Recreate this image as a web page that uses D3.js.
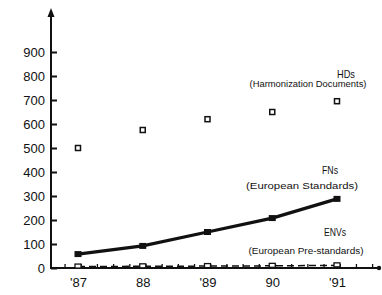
<!DOCTYPE html>
<html>
<head>
<meta charset="utf-8">
<script src="https://cdn.jsdelivr.net/npm/d3@7"></script>
<style>
  body { margin: 0; background: #fff; }
  text { font-family: "Liberation Sans", Arial, sans-serif; fill: #111; }
</style>
</head>
<body>
<svg></svg>
<script>
// values
const years = [1987, 1988, 1989, 1990, 1991];
const yearLabels = ["'87", "88", "'89", "90", "'91"];
const hds = [500, 575, 620, 650, 695];
const fns = [58, 92, 150, 208, 288];
const envs = [6, 7, 8, 9, 11];
const yTicks = [0, 100, 200, 300, 400, 500, 600, 700, 800, 900];

const W = 382, H = 295;
const svg = d3.select("svg").attr("width", W).attr("height", H);

const x = d3.scaleLinear().domain([1987, 1991]).range([78, 337]);
const y = d3.scaleLinear().domain([0, 900]).range([268, 52]);

// y axis
const yAxis = svg.append("g")
    .attr("transform", "translate(51,0)")
    .call(d3.axisLeft(y).tickValues(yTicks).tickSizeInner(-6).tickSizeOuter(0).tickPadding(6));
yAxis.select(".domain").remove();
yAxis.selectAll(".tick line").attr("stroke", "#111").attr("stroke-width", 2);
yAxis.selectAll(".tick text").style("font-size", "13px").attr("fill", "#111");

svg.append("line")
    .attr("x1", 51).attr("x2", 51).attr("y1", 269).attr("y2", 14)
    .attr("stroke", "#111").attr("stroke-width", 2);
svg.append("path")
    .attr("d", "M51,8 L47.5,17 L54.5,17 Z")
    .attr("fill", "#111");

// x axis
svg.append("line")
    .attr("x1", 50).attr("x2", 378).attr("y1", 268).attr("y2", 268)
    .attr("stroke", "#111").attr("stroke-width", 2);
svg.append("circle").attr("cx", 379).attr("cy", 268).attr("r", 2.2).attr("fill", "#111");

const xAxis = svg.append("g")
    .attr("transform", "translate(0,268)")
    .call(d3.axisBottom(x).tickValues(years).tickFormat((d, i) => yearLabels[i]).tickSize(0).tickPadding(10));
xAxis.select(".domain").remove();
xAxis.selectAll(".tick text").style("font-size", "13px").attr("fill", "#111");

// small marks along the base line
const minor = d3.range(1986.8, 1991.9, 0.25).filter(v => !years.includes(v));
svg.selectAll(".minor").data(minor).enter().append("line")
    .attr("x1", d => x(d)).attr("x2", d => x(d))
    .attr("y1", 268).attr("y2", 264)
    .attr("stroke", "#111").attr("stroke-width", 1.3);

const line = d3.line().x((d, i) => x(years[i])).y(d => y(d));

// ENVs
svg.append("path").datum(envs)
    .attr("d", line)
    .attr("fill", "none").attr("stroke", "#111").attr("stroke-width", 1.5)
    .attr("stroke-dasharray", "7,4");
svg.selectAll(".env").data(envs).enter().append("rect")
    .attr("x", (d, i) => x(years[i]) - 3).attr("y", d => y(d) - 2.5)
    .attr("width", 6).attr("height", 4)
    .attr("fill", "#fff").attr("stroke", "#111").attr("stroke-width", 1.3);

// FNs
svg.append("path").datum(fns)
    .attr("d", line)
    .attr("fill", "none").attr("stroke", "#111").attr("stroke-width", 3.2);
svg.selectAll(".fn").data(fns).enter().append("rect")
    .attr("x", (d, i) => x(years[i]) - 3.5).attr("y", d => y(d) - 3)
    .attr("width", 7).attr("height", 6)
    .attr("fill", "#111");

// HDs
svg.selectAll(".hd").data(hds).enter().append("rect")
    .attr("x", (d, i) => x(years[i]) - 2.5).attr("y", d => y(d) - 2.5)
    .attr("width", 5).attr("height", 5)
    .attr("fill", "#fff").attr("stroke", "#111").attr("stroke-width", 1.5);

// series labels
function label(txt, cx, cy, size, len) {
  svg.append("text")
    .attr("x", cx).attr("y", cy)
    .attr("text-anchor", "middle")
    .attr("dominant-baseline", "middle")
    .attr("textLength", len).attr("lengthAdjust", "spacingAndGlyphs")
    .style("font-size", size + "px")
    .text(txt);
}
label("HDs", 346, 75, 11, 18);
label("(Harmonization Documents)", 308, 85, 8.5, 117);
label("FNs", 330, 171, 11, 16);
label("(European Standards)", 302, 187, 8.5, 112);
label("ENVs", 335, 233, 11, 22);
label("(European Pre-standards)", 306, 252, 8.5, 115);
</script>
</body>
</html>
